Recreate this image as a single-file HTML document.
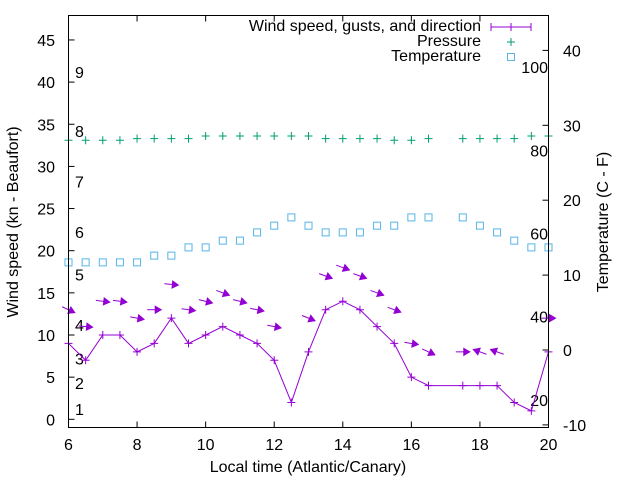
<!DOCTYPE html>
<html><head><meta charset="utf-8">
<style>
html,body{margin:0;padding:0;background:#fff;}
svg{display:block;font-family:"Liberation Sans",sans-serif;}
</style></head>
<body>
<svg id="chart" width="640" height="480" viewBox="0 0 640 480" xmlns="http://www.w3.org/2000/svg">
<rect x="0" y="0" width="640" height="480" fill="#fff"/>
<g id="grid-layer"></g>
<g id="data-layer"></g>
<rect x="68.5" y="15.5" width="480" height="412" fill="none" stroke="#000" stroke-width="1"/>
<text x="308" y="472" font-size="16" text-anchor="middle">Local time (Atlantic/Canary)</text>
<text transform="translate(18,222) rotate(-90)" font-size="16" text-anchor="middle">Wind speed (kn - Beaufort)</text>
<text transform="translate(608,222) rotate(-90)" font-size="16" text-anchor="middle">Temperature (C - F)</text>
<g font-size="16">
<text x="481" y="31" text-anchor="end">Wind speed, gusts, and direction</text>
<g stroke="#9400d3" stroke-width="1">
<line x1="491" y1="27" x2="531" y2="27"/><line x1="491" y1="23" x2="491" y2="31"/><line x1="531" y1="23" x2="531" y2="31"/><line x1="511" y1="23" x2="511" y2="31"/><line x1="507" y1="27" x2="515" y2="27"/>
</g>
<text x="481" y="46" text-anchor="end">Pressure</text>
<g stroke="#009e73"><line x1="507" y1="42" x2="515" y2="42"/><line x1="511" y1="38" x2="511" y2="46"/></g>
<text x="481" y="61" text-anchor="end">Temperature</text>
<rect x="507.5" y="53.5" width="7" height="7" fill="none" stroke="#56b4e9"/>
</g>
</svg>
<script>
var times=[6,6.5,7,7.5,8,8.5,9,9.5,10,10.5,11,11.5,12,12.5,13,13.5,14,14.5,15,15.5,16,16.5,17.5,18,18.5,19,19.5,20];
var windSpeed=[9,7,10,10,8,9,12,9,10,11,10,9,7,2,8,13,14,13,11,9,5,4,4,4,4,2,1,8];
var pressure=[33.1,33.1,33.1,33.1,33.3,33.3,33.3,33.3,33.6,33.6,33.6,33.6,33.6,33.6,33.6,33.3,33.3,33.3,33.3,33.1,33.1,33.3,33.3,33.3,33.3,33.3,33.6,33.6];
var temperature=[11.7,11.7,11.7,11.7,11.7,12.6,12.6,13.7,13.7,14.6,14.6,15.7,16.6,17.7,16.6,15.7,15.7,15.7,16.6,16.6,17.7,17.7,17.7,16.6,15.7,14.6,13.7,13.7];
var gustTimes=[6,6.5,7,7.5,8,8.5,9,9.5,10,10.5,11,11.5,12,13,13.5,14,14.5,15,15.5,16,16.5,17.5,18,18.5,20];
var gustSpeed=[13,11,14,14,12,13,16,13,14,15,14,13,11,12,17,18,17,15,13,9,8,8,8,8,12];
var gustDir=[25,5,7,7,10,0,5,8,14,20,14,11,11,22,20,20,20,20,20,9,25,0,200,200,0];
var xTicks=[6,8,10,12,14,16,18,20];
var yTicks=[0,5,10,15,20,25,30,35,40,45];
var y2Ticks=[-10,0,10,20,30,40];
var beaufortLabels=["1","2","3","4","5","6","7","8","9"];
var beaufortKnots=[1.2,4.3,7.2,11.2,17.2,22.2,28.2,34.2,41.2];
var fahrenheitLabels=[20,40,60,80,100];

var L=68.5,R=548.5,T=15.5,B=427.5;
function xS(t){return L+(t-6)/14*(R-L);}
function yS(v){return 419.3-v*8.43;}
function y2S(c){return 350-c*7.49;}
var NS='http://www.w3.org/2000/svg';
function mk(tag,at,parent){var e=document.createElementNS(NS,tag);for(var k in at)e.setAttribute(k,at[k]);parent.appendChild(e);return e;}
var g=document.getElementById('grid-layer'),d=document.getElementById('data-layer');

xTicks.forEach(function(t){
 var x=xS(t);
 var tk=mk('path',{d:'M'+x+' '+B+'v-6M'+x+' '+T+'v6',stroke:'#000','stroke-width':1},g);
 
 
 var tx=mk('text',{x:x,y:450,'font-size':16,'text-anchor':'middle'},g);tx.textContent=t;
 
 
});
yTicks.forEach(function(v){
 var y=yS(v);
 var tk=mk('path',{d:'M'+L+' '+y+'h6',stroke:'#000','stroke-width':1},g);
 
 
 var tx=mk('text',{x:55,y:y+6,'font-size':16,'text-anchor':'end'},g);tx.textContent=v;
 
 
});
y2Ticks.forEach(function(v){
 var y=y2S(v);
 var tk=mk('path',{d:'M'+R+' '+y+'h-6',stroke:'#000','stroke-width':1},g);
 
 
 var tx=mk('text',{x:563,y:y+6,'font-size':16,'text-anchor':'start'},g);tx.textContent=v;
 
 
});
beaufortLabels.forEach(function(s,i){
 var tx=mk('text',{x:75,y:yS(beaufortKnots[i])+6,'font-size':16},g);tx.textContent=s;
 
 
});
fahrenheitLabels.forEach(function(f){
 var c=(f-32)*5/9;
 var tx=mk('text',{x:548,y:y2S(c)+6,'font-size':16,'text-anchor':'end'},g);tx.textContent=f;
 
 
});

pressure.forEach(function(p,i){
 var x=xS(times[i]),y=yS(p);
 var m=mk('path',{d:'M'+(x-4)+' '+y+'h8M'+x+' '+(y-4)+'v8',stroke:'#009e73','stroke-width':1},d);
 
 
});
temperature.forEach(function(c,i){
 var x=xS(times[i]),y=y2S(c);
 var m=mk('rect',{x:x-3.5,y:y-3.5,width:7,height:7,fill:'none',stroke:'#56b4e9','stroke-width':1},d);
 
 
});
var pts=windSpeed.map(function(v,i){return xS(times[i])+','+yS(v);}).join(' ');
var ln=mk('polyline',{points:pts,fill:'none',stroke:'#9400d3','stroke-width':1},d);


windSpeed.forEach(function(v,i){
 var x=xS(times[i]),y=yS(v);
 var m=mk('path',{d:'M'+(x-4)+' '+y+'h8M'+x+' '+(y-4)+'v8',stroke:'#9400d3','stroke-width':1},d);
 
 
});
gustSpeed.forEach(function(v,i){
 var cx=xS(gustTimes[i]),cy=yS(v),a=gustDir[i]*Math.PI/180,len=14;
 var dx=Math.cos(a),dy=Math.sin(a);
 var x1=cx-dx*len/2,y1=cy-dy*len/2,x2=cx+dx*len/2,y2=cy+dy*len/2;
 var hx=x2-dx*6,hy=y2-dy*6,px=-dy*3.5,py=dx*3.5;
 var grp=mk('g',{},d);
 
 
 mk('line',{x1:x1,y1:y1,x2:x2,y2:y2,stroke:'#9400d3','stroke-width':1},grp);
 mk('polygon',{points:x2+','+y2+' '+(hx+px)+','+(hy+py)+' '+(hx-px)+','+(hy-py),fill:'#9400d3',stroke:'#9400d3'},grp);
});
</script>
</body></html>
